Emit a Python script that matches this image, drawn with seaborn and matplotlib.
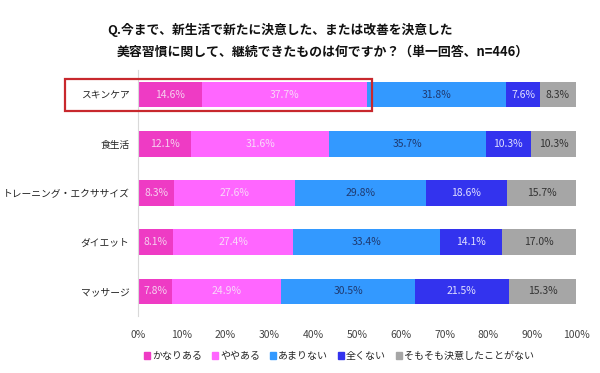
import numpy as np
import pandas as pd
import matplotlib
matplotlib.use("Agg")
import matplotlib.pyplot as plt
from matplotlib.patches import Rectangle
import seaborn as sns

# データ
項目 = ["スキンケア", "食生活", "トレーニング・エクササイズ", "ダイエット", "マッサージ"]
回答 = ["かなりある", "ややある", "あまりない", "全くない", "そもそも決意したことがない"]
かなりある = [14.6, 12.1, 8.3, 8.1, 7.8]
ややある = [37.7, 31.6, 27.6, 27.4, 24.9]
あまりない = [31.8, 35.7, 29.8, 33.4, 30.5]
全くない = [7.6, 10.3, 18.6, 14.1, 21.5]
決意なし = [8.3, 10.3, 15.7, 17.0, 15.3]
x目盛 = [0, 10, 20, 30, 40, 50, 60, 70, 80, 90, 100]

色 = ["#EE3BC4", "#FF66FF", "#3399FF", "#3333EE", "#A6A6A6"]
文字色 = ["#F6D0F0", "#F8D8F8", "#1F3A70", "#E0E0FF", "#333333"]

sns.set_theme(style="white")
plt.rcParams["font.family"] = ["Noto Sans CJK JP", "DejaVu Sans"]

df = pd.DataFrame({"項目": 項目, "かなりある": かなりある, "ややある": ややある,
                   "あまりない": あまりない, "全くない": 全くない,
                   "そもそも決意したことがない": 決意なし})
値 = df[回答].to_numpy()
累積 = np.cumsum(値, axis=1)

fig = plt.figure(figsize=(6, 3.73), dpi=100)
ax = fig.add_axes([0.23, 0.153, 0.73, 0.659])

# 積み上げ：累積値を後ろから順に描く
for i in range(len(回答) - 1, -1, -1):
    tmp = pd.DataFrame({"項目": 項目, "値": 累積[:, i]})
    sns.barplot(data=tmp, x="値", y="項目", orient="h", color=色[i],
                width=0.52, saturation=1, ax=ax, linewidth=0)

# ラベル
for r in range(len(項目)):
    for i in range(len(回答)):
        v = 値[r, i]
        cx = 累積[r, i] - v / 2
        ax.text(cx, r, f"{v:.1f}%", ha="center", va="center",
                fontsize=7.5, color=文字色[i])

ax.set_xlim(0, 100)
ax.set_ylim(4.5, -0.5)
ax.set_xticks(x目盛)
ax.set_xticklabels([f"{t}%" for t in x目盛], fontsize=7.5, color="#444444")
ax.tick_params(axis="x", length=0, pad=10)
ax.tick_params(axis="y", length=0, pad=6, labelsize=7, labelcolor="#222222")
ax.set_xlabel("")
ax.set_ylabel("")
for s in ["top", "right", "bottom"]:
    ax.spines[s].set_visible(False)
ax.spines["left"].set_color("#D9D9D9")
ax.spines["left"].set_linewidth(0.8)

# タイトル
fig.text(107 / 600, 1 - 30 / 373, "Q.今まで、新生活で新たに決意した、または改善を決意した",
         fontsize=9.2, fontweight="bold", ha="left", va="center", color="#111111")
fig.text(117 / 600, 1 - 52 / 373, "美容習慣に関して、継続できたものは何ですか？（単一回答、n=446）",
         fontsize=9.3, fontweight="bold", ha="left", va="center", color="#111111")

# 赤枠
fig.add_artist(Rectangle((65 / 600, 1 - 111 / 373), 307 / 600, 32 / 373,
                         transform=fig.transFigure, fill=False,
                         edgecolor="#C8282D", linewidth=1.6))

# 凡例
handles = [Rectangle((0, 0), 1, 1, color=c) for c in 色]
fig.legend(handles, 回答, loc="center", bbox_to_anchor=(0.565, 1 - 356 / 373),
           ncol=5, frameon=False, fontsize=7.2, handlelength=0.6, handleheight=0.6,
           handletextpad=0.2, columnspacing=1.0)

fig.savefig("out.png", dpi=100)
